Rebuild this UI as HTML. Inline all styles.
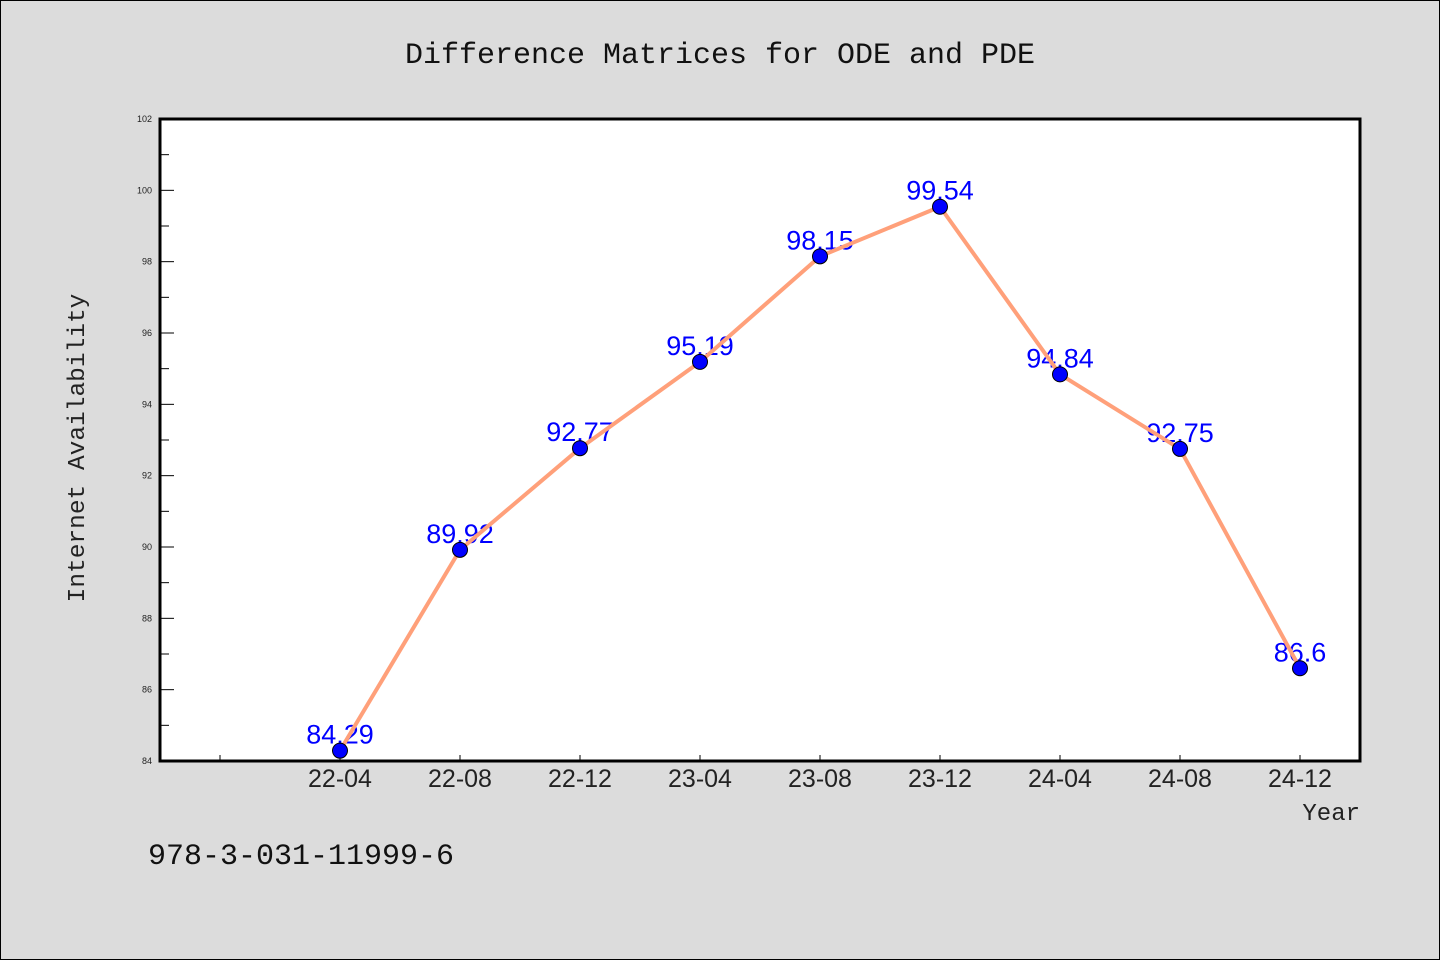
<!DOCTYPE html>
<html><head><meta charset="utf-8"><style>
html,body{margin:0;padding:0;background:#dcdcdc;}
svg{display:block;}
</style></head><body>
<svg id="chart" width="1440" height="960" xmlns="http://www.w3.org/2000/svg" font-family="'Liberation Sans','WenQuanYi Zen Hei',sans-serif">
<rect x="0.5" y="0.5" width="1439" height="959" fill="#dcdcdc" stroke="#000" stroke-width="1"/>
<text x="720" y="63" text-anchor="middle" font-size="30" font-family="'Liberation Mono',monospace" fill="#111">Difference Matrices for ODE and PDE</text>
<rect x="160" y="119" width="1200" height="642" fill="#fff"/>
<g id="axes"></g>
<g id="series"></g>
<rect x="160" y="119" width="1200" height="642" fill="none" stroke="#000" stroke-width="3"/>
<text transform="translate(84,448) rotate(-90)" text-anchor="middle" font-size="24.5" font-family="'Liberation Mono',monospace" fill="#222">Internet Availability</text>
<text x="1360" y="820" text-anchor="end" font-size="24" font-family="'Liberation Mono',monospace" fill="#222">Year</text>
<text x="148" y="864" font-size="30" font-family="'Liberation Mono',monospace" fill="#111">978-3-031-11999-6</text>
</svg>
<script>
const categories = ["22-04","22-08","22-12","23-04","23-08","23-12","24-04","24-08","24-12"];
const values = [84.29, 89.92, 92.77, 95.19, 98.15, 99.54, 94.84, 92.75, 86.6];
const yTicks = [84, 86, 88, 90, 92, 94, 96, 98, 100, 102];
const NS = "http://www.w3.org/2000/svg";
const plotLeft = 160, plotRight = 1360, plotTop = 119, plotBottom = 761, yMin = 84, yMax = 102;
function yScale(v){ return plotBottom - (v - yMin) / (yMax - yMin) * (plotBottom - plotTop); }
function xScale(i){ return 340 + i * 120; }
function mk(tag, attrs, parent){ const e = document.createElementNS(NS, tag); for (const k in attrs) e.setAttribute(k, attrs[k]); parent.appendChild(e); return e; }
const axesG = document.getElementById('axes');
const seriesG = document.getElementById('series');
yTicks.forEach((t, i) => {
  const y = yScale(t);
  const tk = mk('line', {x1: plotLeft, x2: plotLeft + 14, y1: y, y2: y, stroke: '#000', 'stroke-width': 1}, axesG);
  
  
  const lb = mk('text', {x: 152, y: y + 3, 'text-anchor': 'end', 'font-size': 9, fill: '#222'}, axesG);
  
  
  lb.textContent = t;
  if (i < yTicks.length - 1) {
    const ym = yScale(t + 1);
    const mn = mk('line', {x1: plotLeft, x2: plotLeft + 9, y1: ym, y2: ym, stroke: '#000', 'stroke-width': 1}, axesG);
    
    
  }
});
for (let i = -1; i < categories.length; i++) {
  const x = xScale(i);
  const tk = mk('line', {x1: x, x2: x, y1: plotBottom, y2: plotBottom - 6, stroke: '#000', 'stroke-width': 1}, axesG);
  
  
  if (i >= 0) {
    const lb = mk('text', {x: x, y: plotBottom + 26, 'text-anchor': 'middle', 'font-size': 25, fill: '#222'}, axesG);
    
    
    lb.textContent = categories[i];
  }
}
values.forEach((v, i) => {
  const lb = mk('text', {x: xScale(i), y: yScale(v) - 7, 'text-anchor': 'middle', 'font-size': 27, fill: '#0000ff'}, seriesG);
  
  
  lb.textContent = v;
});
const pts = values.map((v, i) => xScale(i) + ',' + yScale(v)).join(' ');
const line = mk('polyline', {points: pts, fill: 'none', stroke: '#ffa07a', 'stroke-width': 4, 'stroke-linejoin': 'round'}, seriesG);


values.forEach((v, i) => {
  const c = mk('circle', {cx: xScale(i), cy: yScale(v), r: 7.5, fill: '#0000ff', stroke: '#000', 'stroke-width': 1}, seriesG);
  
  
});
</script>
</body></html>
